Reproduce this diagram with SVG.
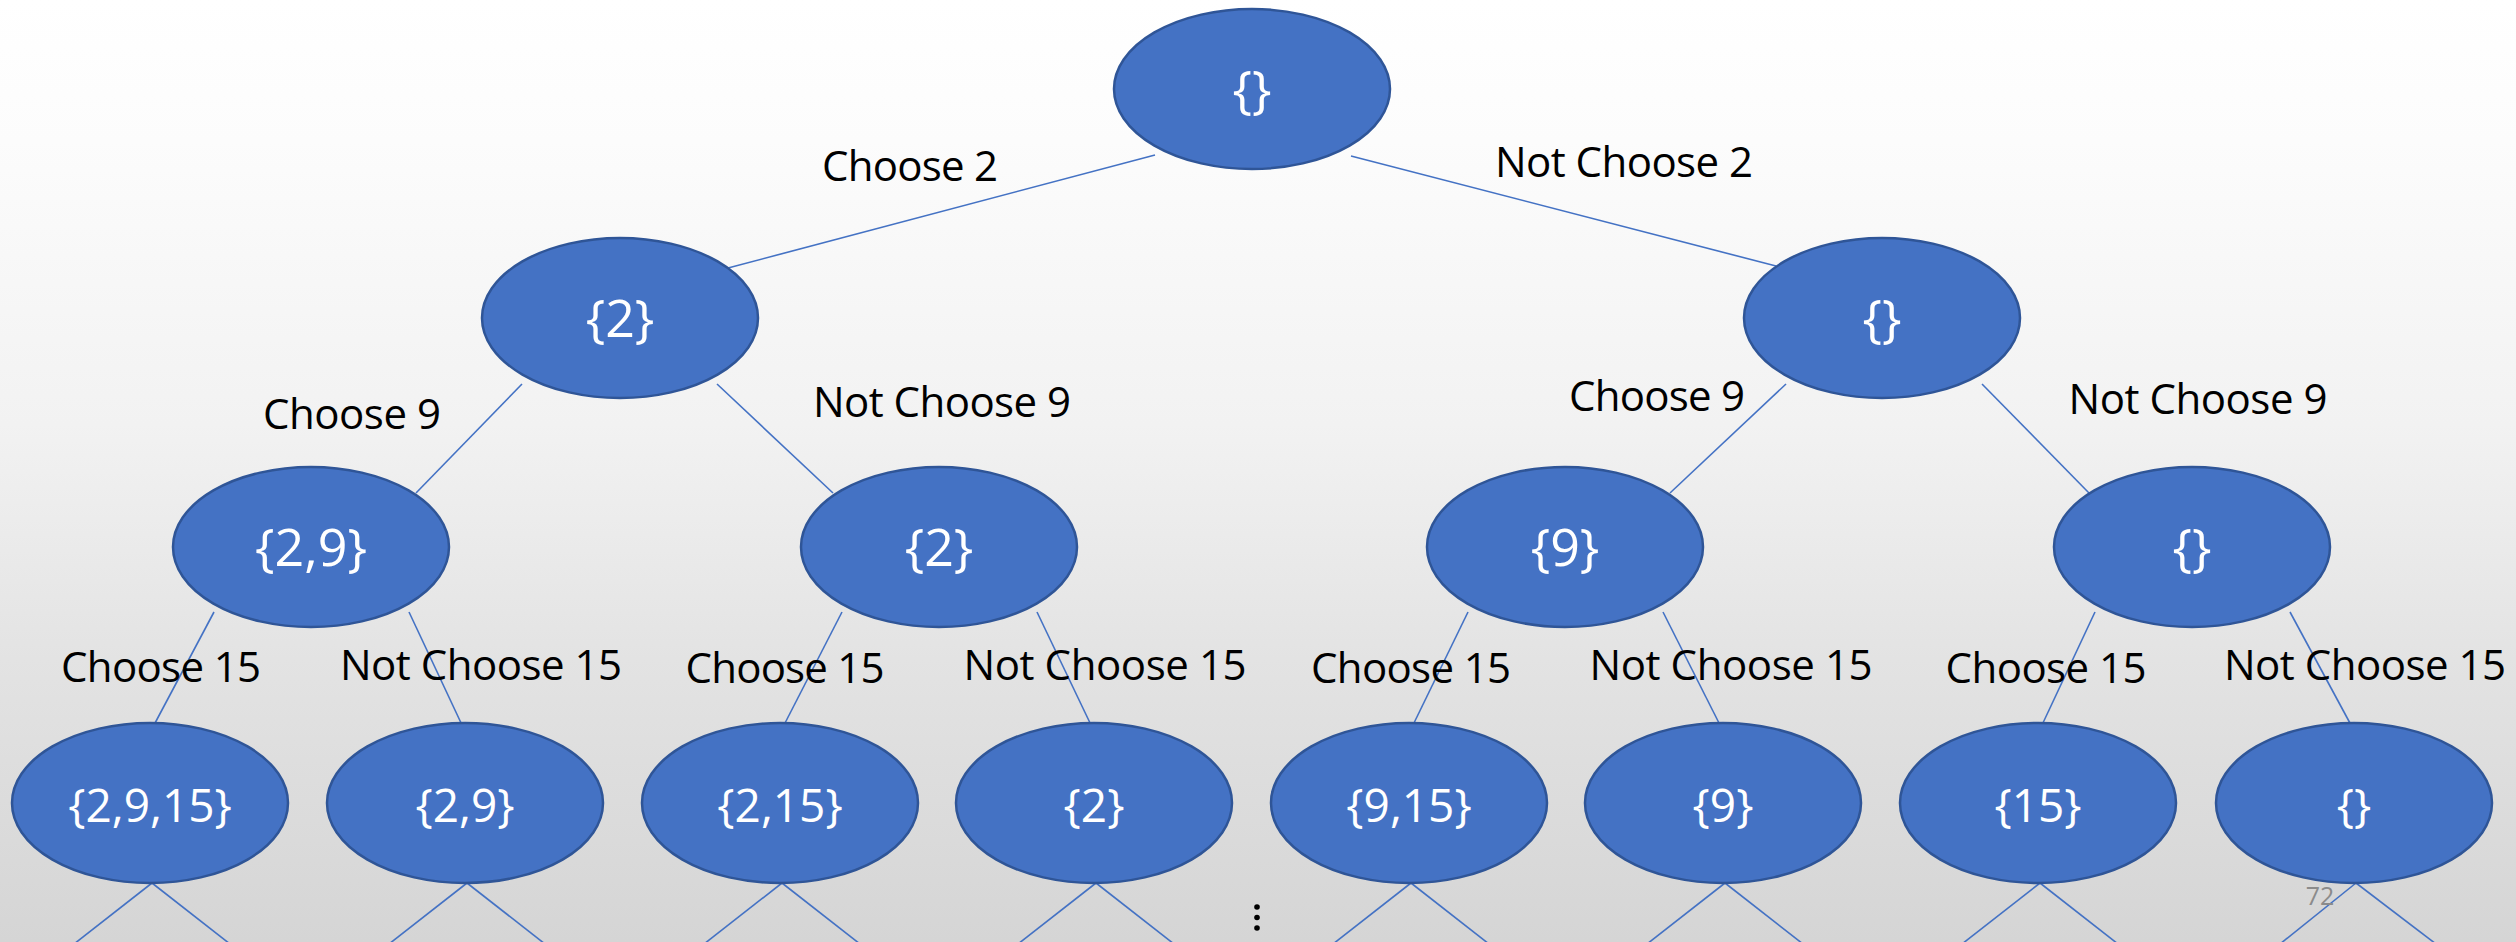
<svg xmlns="http://www.w3.org/2000/svg" width="2516" height="942" viewBox="0 0 2516 942">
<defs>
<linearGradient id="bg" x1="0" y1="0" x2="0" y2="1">
<stop offset="0" stop-color="#ffffff"/>
<stop offset="0.15" stop-color="#fcfcfc"/>
<stop offset="0.45" stop-color="#f2f2f2"/>
<stop offset="0.7" stop-color="#e3e3e3"/>
<stop offset="1" stop-color="#d5d5d5"/>
</linearGradient>
<style>
.node ellipse{fill:#4472c4;stroke:#2f5597;stroke-width:2.5}
.nt{fill:#ffffff;font-family:"Open Sans","Liberation Sans",sans-serif;text-anchor:middle}
.big{font-size:52px}
.small{font-size:46px}
.lbl{fill:#000000;font-family:"Open Sans","Liberation Sans",sans-serif;font-size:42px;text-anchor:middle}
#connectors line{stroke:#4472c4;stroke-width:1.6;fill:none}
</style>
</defs>
<rect x="0" y="0" width="2516" height="942" fill="url(#bg)"/>

<g id="connectors">
<line x1="1155" y1="155" x2="728" y2="268"/>
<line x1="1351" y1="156" x2="1776" y2="266"/>
<line x1="522" y1="384" x2="416" y2="493"/>
<line x1="717" y1="384" x2="833" y2="493"/>
<line x1="1786" y1="384" x2="1670" y2="493"/>
<line x1="1982" y1="384" x2="2089" y2="493"/>
<line x1="214" y1="612" x2="154" y2="725"/>
<line x1="409" y1="612" x2="462" y2="725"/>
<line x1="842" y1="612" x2="784" y2="725"/>
<line x1="1037" y1="612" x2="1091" y2="725"/>
<line x1="1468" y1="612" x2="1413" y2="725"/>
<line x1="1663" y1="612" x2="1720" y2="725"/>
<line x1="2095" y1="612" x2="2042" y2="725"/>
<line x1="2290" y1="612" x2="2351" y2="725"/>
<line x1="152" y1="883" x2="74" y2="944"/>
<line x1="152" y1="883" x2="230" y2="944"/>
<line x1="467" y1="883" x2="389" y2="944"/>
<line x1="467" y1="883" x2="545" y2="944"/>
<line x1="782" y1="883" x2="704" y2="944"/>
<line x1="782" y1="883" x2="860" y2="944"/>
<line x1="1096" y1="883" x2="1018" y2="944"/>
<line x1="1096" y1="883" x2="1174" y2="944"/>
<line x1="1411" y1="883" x2="1333" y2="944"/>
<line x1="1411" y1="883" x2="1489" y2="944"/>
<line x1="1725" y1="883" x2="1647" y2="944"/>
<line x1="1725" y1="883" x2="1803" y2="944"/>
<line x1="2040" y1="883" x2="1962" y2="944"/>
<line x1="2040" y1="883" x2="2118" y2="944"/>
<line x1="2356" y1="883" x2="2280" y2="944"/>
<line x1="2356" y1="883" x2="2436" y2="944"/>
</g>

<g id="edge-labels">
<text class="lbl" x="910" y="181" textLength="176">Choose 2</text>
<text class="lbl" x="1624" y="177" textLength="258">Not Choose 2</text>
<text class="lbl" x="352" y="429" textLength="178">Choose 9</text>
<text class="lbl" x="942" y="417" textLength="258">Not Choose 9</text>
<text class="lbl" x="1657" y="411" textLength="176">Choose 9</text>
<text class="lbl" x="2198" y="414" textLength="259">Not Choose 9</text>
<text class="lbl" x="161" y="682" textLength="200">Choose 15</text>
<text class="lbl" x="481" y="680" textLength="282">Not Choose 15</text>
<text class="lbl" x="785" y="683" textLength="199">Choose 15</text>
<text class="lbl" x="1105" y="680" textLength="283">Not Choose 15</text>
<text class="lbl" x="1411" y="683" textLength="200">Choose 15</text>
<text class="lbl" x="1731" y="680" textLength="283">Not Choose 15</text>
<text class="lbl" x="2046" y="683" textLength="201">Choose 15</text>
<text class="lbl" x="2365" y="680" textLength="282">Not Choose 15</text>
</g>

<g id="n0" class="node"><ellipse cx="1252" cy="89" rx="138" ry="80"/><text class="nt big" x="1252" y="108">{}</text></g>
<g id="n1" class="node"><ellipse cx="620" cy="318" rx="138" ry="80"/><text class="nt big" x="620" y="337">{2}</text></g>
<g id="n2" class="node"><ellipse cx="1882" cy="318" rx="138" ry="80"/><text class="nt big" x="1882" y="337">{}</text></g>
<g id="n3" class="node"><ellipse cx="311" cy="547" rx="138" ry="80"/><text class="nt big" x="311" y="566">{2,9}</text></g>
<g id="n4" class="node"><ellipse cx="939" cy="547" rx="138" ry="80"/><text class="nt big" x="939" y="566">{2}</text></g>
<g id="n5" class="node"><ellipse cx="1565" cy="547" rx="138" ry="80"/><text class="nt big" x="1565" y="566">{9}</text></g>
<g id="n6" class="node"><ellipse cx="2192" cy="547" rx="138" ry="80"/><text class="nt big" x="2192" y="566">{}</text></g>
<g id="n7" class="node"><ellipse cx="150" cy="803" rx="138" ry="80"/><text class="nt small" x="150" y="822">{2,9,15}</text></g>
<g id="n8" class="node"><ellipse cx="465" cy="803" rx="138" ry="80"/><text class="nt small" x="465" y="822">{2,9}</text></g>
<g id="n9" class="node"><ellipse cx="780" cy="803" rx="138" ry="80"/><text class="nt small" x="780" y="822">{2,15}</text></g>
<g id="n10" class="node"><ellipse cx="1094" cy="803" rx="138" ry="80"/><text class="nt small" x="1094" y="822">{2}</text></g>
<g id="n11" class="node"><ellipse cx="1409" cy="803" rx="138" ry="80"/><text class="nt small" x="1409" y="822">{9,15}</text></g>
<g id="n12" class="node"><ellipse cx="1723" cy="803" rx="138" ry="80"/><text class="nt small" x="1723" y="822">{9}</text></g>
<g id="n13" class="node"><ellipse cx="2038" cy="803" rx="138" ry="80"/><text class="nt small" x="2038" y="822">{15}</text></g>
<g id="n14" class="node"><ellipse cx="2354" cy="803" rx="138" ry="80"/><text class="nt small" x="2354" y="822">{}</text></g>

<g id="ellipsis" fill="#000000">
<circle cx="1257" cy="907" r="2.8"/>
<circle cx="1257" cy="917.5" r="2.8"/>
<circle cx="1257" cy="928" r="2.8"/>
</g>
<text x="2320" y="905" fill="#8b8b8b" font-family="Open Sans, Liberation Sans, sans-serif" font-size="25" text-anchor="middle">72</text>
</svg>
